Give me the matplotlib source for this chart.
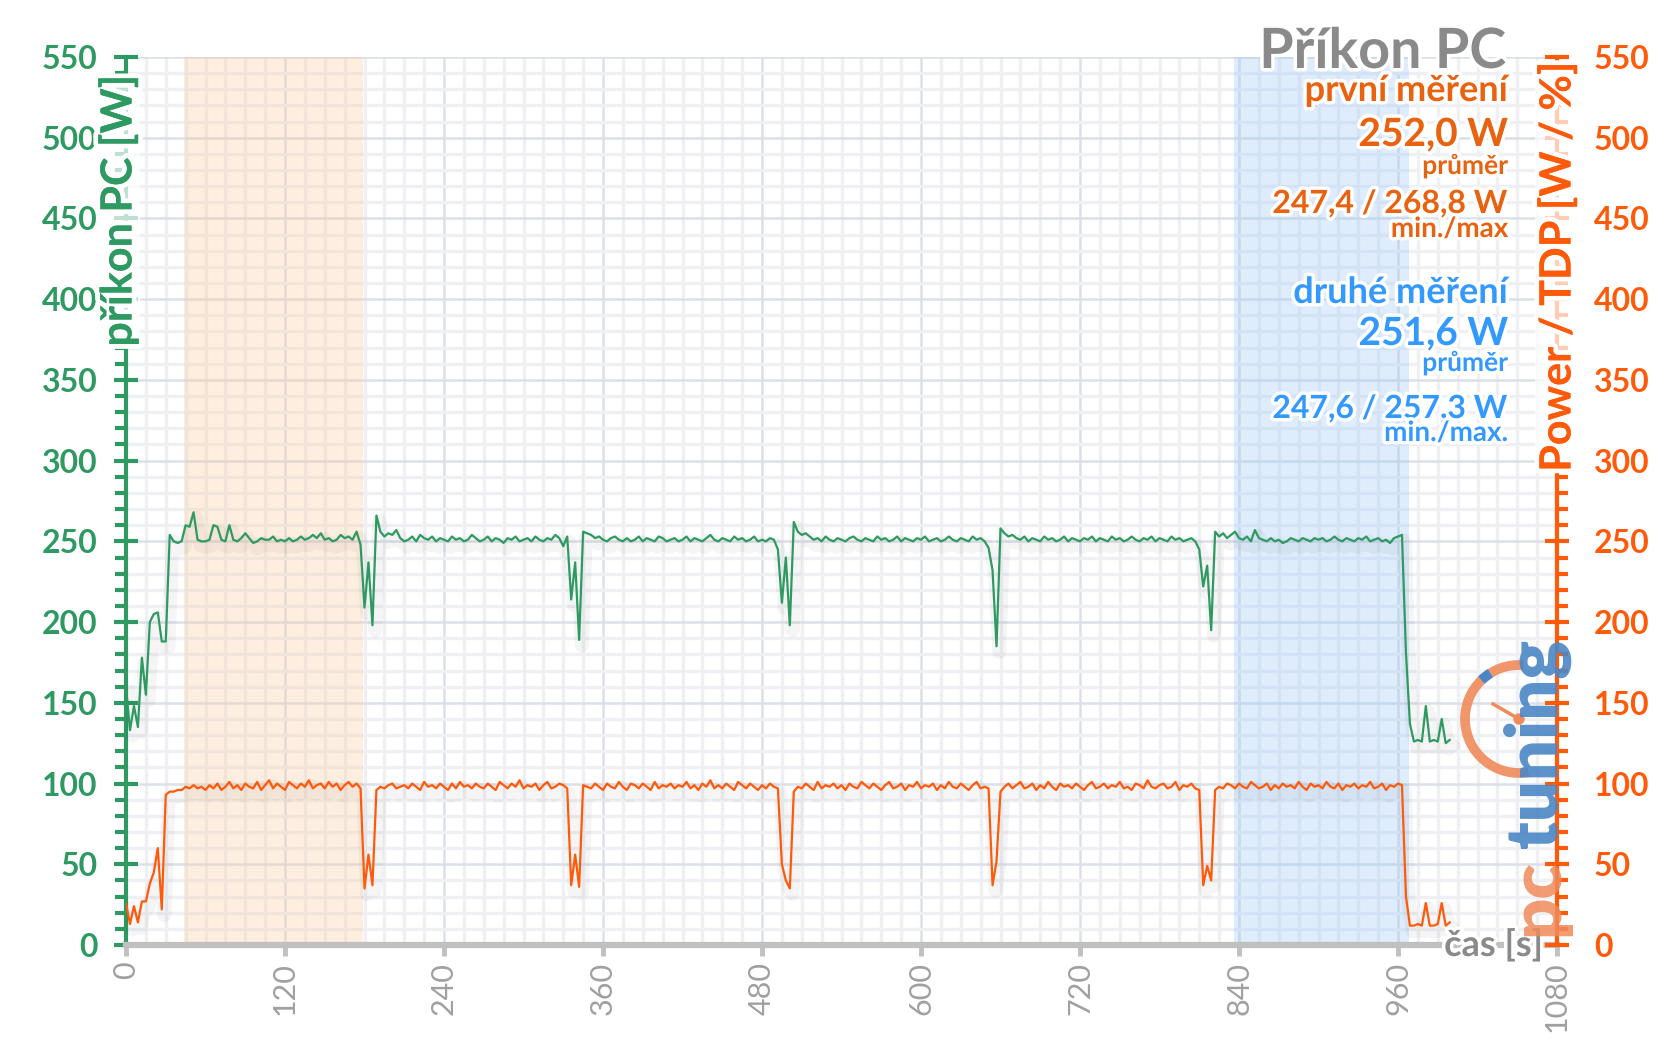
import numpy as np
import matplotlib
matplotlib.use("Agg")
import matplotlib.pyplot as plt
import matplotlib.patheffects as pe
from matplotlib.patches import Arc, Circle
from matplotlib.ticker import MultipleLocator

GREEN = "#2E9A62"; ORANGE = "#FF5A0A"; ORANGE_TXT = "#E8620F"; BLUE_TXT = "#3399FF"
GRAY = "#8A8A8A"; TICKGRAY = "#A0A0A0"
FONT = ["Lato", "DejaVu Sans"]
plt.rcParams.update({"font.family": FONT})

W, H = 1657, 1044

# time axis, one sample every 3 s
t = np.arange(0, 1000, 3)

# příkon PC [W]
pc_power = [
    160, 133, 148, 135, 178, 155, 200, 205, 206, 188,
    188, 254, 250, 249, 250, 260, 259, 268, 251, 250,
    250, 251, 260, 259, 251, 250, 260, 251, 250, 252,
    255, 252, 249, 250, 252, 251, 251, 253, 250, 251,
    250, 252, 250, 251, 253, 251, 252, 254, 252, 255,
    251, 252, 250, 251, 254, 252, 253, 251, 256, 248,
    209, 237, 198, 266, 256, 253, 255, 254, 257, 252,
    250, 251, 253, 250, 254, 252, 251, 253, 250, 252,
    251, 250, 253, 251, 252, 250, 251, 254, 252, 250,
    251, 253, 250, 252, 251, 249, 252, 251, 253, 250,
    251, 252, 250, 253, 251, 250, 252, 251, 254, 252,
    247, 253, 214, 237, 189, 256, 255, 254, 252, 253,
    251, 250, 252, 253, 251, 250, 252, 250, 251, 253,
    250, 252, 251, 250, 253, 252, 250, 251, 252, 250,
    251, 253, 250, 252, 251, 250, 252, 254, 251, 250,
    252, 251, 250, 253, 251, 252, 250, 251, 253, 250,
    251, 250, 252, 251, 245, 212, 240, 198, 262, 256,
    254, 255, 253, 251, 252, 250, 253, 251, 250, 252,
    251, 250, 252, 253, 251, 250, 252, 251, 250, 253,
    251, 252, 250, 251, 253, 250, 252, 251, 250, 252,
    251, 253, 250, 251, 252, 250, 251, 253, 251, 250,
    252, 251, 250, 253, 251, 252, 250, 246, 232, 185,
    258, 255, 253, 254, 252, 251, 253, 250, 252, 251,
    250, 253, 251, 252, 250, 251, 253, 250, 252, 251,
    250, 252, 251, 253, 250, 252, 251, 250, 253, 251,
    252, 250, 251, 253, 251, 250, 252, 251, 253, 250,
    252, 251, 250, 253, 251, 252, 250, 251, 252, 250,
    245, 222, 235, 195, 256, 253, 255, 252, 254, 256,
    252, 251, 253, 250, 257, 252, 251, 250, 252, 250,
    251, 249, 250, 252, 251, 250, 252, 251, 250, 252,
    251, 252, 250, 251, 253, 251, 250, 252, 251, 250,
    252, 251, 253, 250, 251, 252, 250, 251, 249, 252,
    253, 254, 181, 137, 126, 127, 126, 148, 126, 127,
    126, 140, 125, 127,
]

# Power / TDP [%]
gpu_tdp = [
    26, 13, 24, 14, 27, 27, 38, 45, 60, 22,
    93, 95, 95, 96, 96, 98, 97, 99, 97, 98,
    96, 99, 97, 100, 96, 98, 101, 97, 99, 96,
    100, 98, 97, 101, 96, 99, 102, 97, 100, 98,
    96, 101, 99, 97, 100, 98, 102, 97, 99, 100,
    97, 101, 98, 100, 96, 99, 101, 98, 100, 97,
    35, 56, 37, 96, 98, 97, 99, 100, 97, 98,
    99, 97, 100, 98, 96, 101, 98, 99, 97, 100,
    98, 96, 100, 97, 101, 98, 99, 97, 100, 98,
    97, 100, 98, 96, 101, 99, 97, 100, 98, 102,
    97, 99, 98, 100, 96, 99, 101, 97, 98, 100,
    99, 97, 37, 56, 36, 99, 98, 97, 100, 98,
    96, 100, 98, 97, 101, 98, 96, 100, 99, 97,
    100, 98, 96, 101, 97, 99, 98, 100, 97, 99,
    98, 101, 97, 99, 96, 100, 98, 102, 97, 99,
    97, 100, 98, 96, 101, 99, 97, 100, 98, 96,
    99, 97, 100, 98, 97, 50, 40, 35, 95, 98,
    97, 100, 98, 96, 101, 97, 99, 98, 100, 97,
    99, 96, 100, 98, 97, 101, 99, 97, 100, 98,
    96, 99, 101, 97, 98, 100, 96, 99, 98, 101,
    97, 99, 98, 100, 96, 99, 97, 101, 98, 97,
    100, 98, 96, 99, 101, 97, 98, 97, 37, 52,
    95, 98, 100, 97, 99, 101, 97, 98, 100, 96,
    99, 97, 101, 98, 96, 100, 98, 99, 97, 100,
    98, 96, 99, 101, 97, 98, 100, 97, 99, 98,
    101, 97, 98, 96, 100, 99, 97, 102, 98, 97,
    99, 100, 97, 98, 101, 96, 99, 98, 100, 97,
    96, 37, 49, 40, 96, 98, 97, 100, 99, 97,
    100, 98, 97, 101, 99, 97, 98, 100, 96, 99,
    97, 100, 98, 99, 97, 101, 98, 96, 100, 98,
    99, 97, 101, 98, 97, 100, 96, 99, 98, 100,
    97, 99, 98, 101, 97, 98, 100, 96, 99, 98,
    100, 99, 30, 12, 12, 13, 12, 26, 12, 12,
    13, 26, 12, 14,
]

# highlighted windows (first / second measurement), seconds
first_span = (44, 179)
second_span = (836, 968)

x_ticks = np.arange(0, 1081, 120)
y_ticks = np.arange(0, 551, 50)

first_lines = [("první měření", 26, 101), ("252,0 W", 28, 146), ("průměr", 19, 174),
               ("247,4 / 268,8 W", 23, 213), ("min./max", 20, 237)]
second_lines = [("druhé měření", 26, 303), ("251,6 W", 28, 345), ("průměr", 19, 371),
                ("247,6 / 257,3 W", 23, 418), ("min./max.", 20, 441)]


def fx(x): return x / W
def fy(y): return 1 - y / H


glow = [pe.withStroke(linewidth=5, foreground="white")]
wide_glow = [pe.withStroke(linewidth=7, foreground="white"), pe.Normal()]
label_box = dict(facecolor="white", edgecolor="none", alpha=0.7, pad=1)

fig = plt.figure(figsize=(W / 100, H / 100), dpi=100)
ax = fig.add_axes([fx(126), fy(945), fx(1557) - fx(126), fy(57) - fy(945)])
ax2 = ax.twinx()

ax.set_xlim(0, 1080); ax.set_ylim(0, 550); ax2.set_ylim(0, 550)
ax.set_axisbelow(True)
ax.xaxis.set_minor_locator(MultipleLocator(15))
ax.yaxis.set_minor_locator(MultipleLocator(10))
ax2.yaxis.set_minor_locator(MultipleLocator(10))
ax.set_xticks(x_ticks); ax.set_yticks(y_ticks); ax2.set_yticks(y_ticks)
ax.grid(which="minor", color="#EEF0F4", lw=2.4)
ax.grid(which="major", color="#DCE0E8", lw=1.8)

ax.axvspan(*first_span, color="#F9C99A", alpha=0.3, lw=0)
ax.axvspan(*second_span, color="#9CC8F5", alpha=0.33, lw=0)

shadow = [pe.SimpleLineShadow(offset=(2, -4), shadow_color="k", alpha=0.04, linewidth=10), pe.Normal()]
ax.plot(t, pc_power, color=GREEN, lw=1.6, path_effects=shadow, zorder=3)
ax.plot(t, gpu_tdp, color=ORANGE, lw=1.6, path_effects=shadow, zorder=3)

for s in ("top", "right"): ax.spines[s].set_visible(False)
for s in ("top", "left", "bottom"): ax2.spines[s].set_visible(False)
ax.spines["left"].set_color(GREEN); ax.spines["left"].set_linewidth(3)
ax.spines["bottom"].set_color("#C0C0C0"); ax.spines["bottom"].set_linewidth(4.5)
ax2.spines["right"].set_color(ORANGE); ax2.spines["right"].set_linewidth(3)

ax.tick_params(axis="y", which="major", direction="inout", length=17, width=3, color=GREEN,
               labelcolor=GREEN, labelsize=23, pad=12)
ax.tick_params(axis="y", which="minor", direction="out", length=8, width=3, color=GREEN)
ax2.tick_params(axis="y", which="major", direction="inout", length=17, width=3, color=ORANGE,
                labelcolor=ORANGE, labelsize=23, pad=18)
ax2.tick_params(axis="y", which="minor", direction="out", length=8, width=3, color=ORANGE)
ax.tick_params(axis="x", which="major", direction="out", length=8, width=3.5, color="#C0C0C0",
               labelcolor=TICKGRAY, labelsize=22, labelrotation=90, pad=4)
ax.tick_params(axis="x", which="minor", length=0)
for lab in ax.get_yticklabels() + ax2.get_yticklabels():
    lab.set_fontweight("bold")

fig.text(fx(118), fy(211), "příkon PC [W]", rotation=90, ha="center", va="center",
         color=GREEN, fontsize=31, fontweight="bold", path_effects=wide_glow, bbox=label_box)
fig.text(fx(1557), fy(267), "Power / TDP [W / %]", rotation=90, ha="center", va="center",
         color=ORANGE, fontsize=31, fontweight="bold", path_effects=wide_glow, bbox=label_box)

fig.text(fx(1506), fy(68), "Příkon PC", ha="right", va="baseline", color=GRAY,
         fontsize=40, fontweight="bold", path_effects=glow)
for lines, col in ((first_lines, ORANGE_TXT), (second_lines, BLUE_TXT)):
    for txt, size, ybase in lines:
        fig.text(fx(1508), fy(ybase), txt, ha="right", va="baseline", color=col,
                 fontsize=size, fontweight="bold", path_effects=glow)

fig.text(fx(1543), fy(945), "čas [s]", ha="right", va="center", color=GRAY,
         fontsize=26, fontweight="bold", path_effects=glow)

# pctuning logo, drawn in pixel coordinates
ov = fig.add_axes([0, 0, 1, 1], zorder=5)
ov.set_xlim(0, W); ov.set_ylim(H, 0); ov.axis("off")
ov.add_patch(Arc((1519, 719), 108, 108, theta1=80, theta2=275, color="#F08A5B", lw=7, alpha=0.9))
ov.add_patch(Arc((1519, 719), 108, 108, theta1=226, theta2=238, color="#4A86C5", lw=7))
ov.plot([1519, 1493], [719, 704], color="#F08A5B", lw=2.5)
ov.add_patch(Circle((1519, 719), 5, color="#F08A5B"))
ov.text(1537, 936, "pc", rotation=90, ha="center", va="bottom", color="#F08A5B",
        fontsize=52, fontweight="heavy", alpha=0.85)
ov.text(1537, 848, "tuning", rotation=90, ha="center", va="bottom", color="#4A86C5",
        fontsize=52, fontweight="heavy", alpha=0.9)

fig.savefig("out.png", dpi=100, facecolor="white")
